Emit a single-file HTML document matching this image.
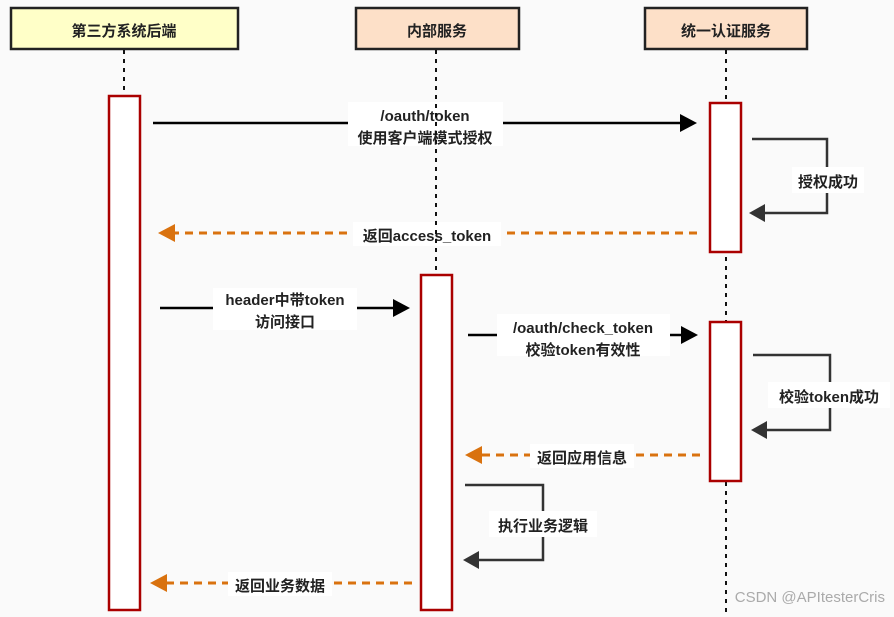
<!DOCTYPE html>
<html><head><meta charset="utf-8"><style>
html,body{margin:0;padding:0;background:#fafafa;}
svg text{font-family:"Liberation Sans","Noto Sans CJK SC",sans-serif;font-weight:bold;font-size:15px;fill:#222;}
</style></head><body>
<svg width="894" height="612" viewBox="0 0 894 612" xmlns="http://www.w3.org/2000/svg">
<rect width="894" height="612" fill="#fafafa"/>
<!-- headers -->
<rect x="11" y="8" width="227" height="41" fill="#ffffc8" stroke="#222" stroke-width="2.5"/>
<text x="124" y="36" text-anchor="middle" font-size="18">第三方系统后端</text>
<rect x="356" y="8" width="163" height="41" fill="#fde0c8" stroke="#222" stroke-width="2.5"/>
<text x="437" y="36" text-anchor="middle" font-size="18">内部服务</text>
<rect x="645" y="8" width="162" height="41" fill="#fde0c8" stroke="#222" stroke-width="2.5"/>
<text x="726" y="36" text-anchor="middle" font-size="18">统一认证服务</text>
<!-- lifelines -->
<g stroke="#111" stroke-width="2" stroke-dasharray="4,5">
<line x1="124" y1="50" x2="124" y2="96"/>
<line x1="726" y1="50" x2="726" y2="612"/>
</g>
<!-- activations -->
<g fill="#fff" stroke="#a00" stroke-width="2.5">
<rect x="109" y="96" width="31" height="514"/>
<rect x="421" y="275" width="31" height="335"/>
<rect x="710" y="103" width="31" height="149"/>
<rect x="710" y="322" width="31" height="159"/>
</g>
<!-- arrow1 -->
<line x1="153" y1="123" x2="685" y2="123" stroke="#000" stroke-width="2.5"/>
<path d="M680,114 L697,123 L680,132Z" fill="#000"/>
<rect x="348" y="102" width="155" height="44" fill="#fff"/>
<text x="425" y="121" text-anchor="middle">/oauth/token</text>
<text x="425" y="143" text-anchor="middle">使用客户端模式授权</text>
<!-- self loop 1 -->
<path d="M752,139 H827 V213 H762" fill="none" stroke="#333" stroke-width="2.5"/>
<path d="M749,213 L765,204 L765,222Z" fill="#333"/>
<rect x="792" y="167" width="72" height="26" fill="#fff"/>
<text x="828" y="187" text-anchor="middle">授权成功</text>
<!-- return1 -->
<line x1="697" y1="233" x2="172" y2="233" stroke="#d9720f" stroke-width="3" stroke-dasharray="8,6"/>
<path d="M158,233 L175,224 L175,242Z" fill="#d9720f"/>
<rect x="353" y="222" width="148" height="24" fill="#fff"/>
<text x="427" y="241" text-anchor="middle">返回access_token</text>
<!-- lifeline 2 over -->
<line x1="436" y1="50" x2="436" y2="275" stroke="#111" stroke-width="2" stroke-dasharray="4,5"/>
<!-- arrow2 -->
<line x1="160" y1="308" x2="400" y2="308" stroke="#000" stroke-width="2.5"/>
<path d="M393,299 L410,308 L393,317Z" fill="#000"/>
<rect x="213" y="288" width="144" height="42" fill="#fff"/>
<text x="285" y="305" text-anchor="middle">header中带token</text>
<text x="285" y="327" text-anchor="middle">访问接口</text>
<!-- arrow3 -->
<line x1="468" y1="335" x2="688" y2="335" stroke="#000" stroke-width="2.5"/>
<path d="M681,326 L698,335 L681,344Z" fill="#000"/>
<rect x="497" y="314" width="173" height="42" fill="#fff"/>
<text x="583" y="333" text-anchor="middle">/oauth/check_token</text>
<text x="583" y="355" text-anchor="middle">校验token有效性</text>
<!-- self loop 2 -->
<path d="M753,355 H830 V430 H764" fill="none" stroke="#333" stroke-width="2.5"/>
<path d="M751,430 L767,421 L767,439Z" fill="#333"/>
<rect x="768" y="382" width="122" height="26" fill="#fff"/>
<text x="829" y="402" text-anchor="middle">校验token成功</text>
<!-- return2 -->
<line x1="700" y1="455" x2="478" y2="455" stroke="#d9720f" stroke-width="3" stroke-dasharray="8,6"/>
<path d="M465,455 L482,446 L482,464Z" fill="#d9720f"/>
<rect x="530" y="444" width="104" height="24" fill="#fff"/>
<text x="582" y="463" text-anchor="middle">返回应用信息</text>
<!-- self loop 3 -->
<path d="M465,485 H543 V560 H476" fill="none" stroke="#333" stroke-width="2.5"/>
<path d="M463,560 L479,551 L479,569Z" fill="#333"/>
<rect x="489" y="511" width="108" height="26" fill="#fff"/>
<text x="543" y="531" text-anchor="middle">执行业务逻辑</text>
<!-- return3 -->
<line x1="412" y1="583" x2="163" y2="583" stroke="#d9720f" stroke-width="3" stroke-dasharray="8,6"/>
<path d="M150,583 L167,574 L167,592Z" fill="#d9720f"/>
<rect x="228" y="572" width="104" height="24" fill="#fff"/>
<text x="280" y="591" text-anchor="middle">返回业务数据</text>
<!-- watermark -->
<text x="885" y="602" text-anchor="end" style="font-weight:normal;fill:#aaa;font-size:15px">CSDN @APItesterCris</text>
</svg>
</body></html>
